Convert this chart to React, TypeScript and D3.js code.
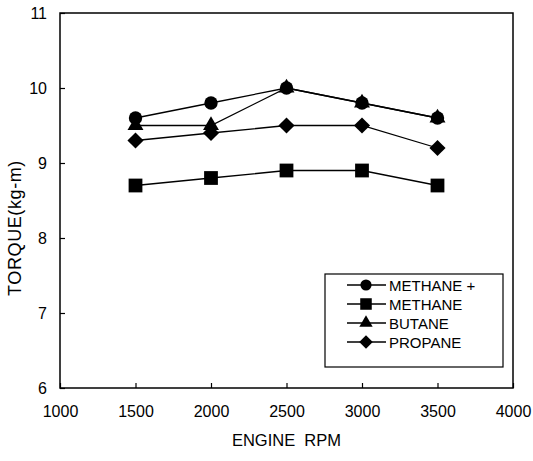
import React, { useRef, useEffect } from "react";
import * as d3 from "d3";

const rpm = [1500, 2000, 2500, 3000, 3500];
const methanePlus = [9.6, 9.8, 10.0, 9.8, 9.6];
const methane = [8.7, 8.8, 8.9, 8.9, 8.7];
const butane = [9.5, 9.5, 10.0, 9.8, 9.6];
const propane = [9.3, 9.4, 9.5, 9.5, 9.2];
const xTicks = [1000, 1500, 2000, 2500, 3000, 3500, 4000];
const yTicks = [6, 7, 8, 9, 10, 11];

// square diamond (equal width and height)
const squareDiamond = {
  draw(context: any, size: number) {
    const r = Math.sqrt(size / 2);
    context.moveTo(0, -r);
    context.lineTo(r, 0);
    context.lineTo(0, r);
    context.lineTo(-r, 0);
    context.closePath();
  },
};

const series = [
  { name: "METHANE +", values: methanePlus, shape: d3.symbolCircle, size: 140 },
  { name: "METHANE", values: methane, shape: d3.symbolSquare, size: 190 },
  { name: "BUTANE", values: butane, shape: d3.symbolTriangle, size: 110 },
  { name: "PROPANE", values: propane, shape: squareDiamond, size: 130 },
];

const App = () => {
  const svgRef = useRef<SVGSVGElement>(null);

  useEffect(() => {
    const width = 533, height = 461;
    const margin = { top: 13, right: 20, bottom: 73, left: 60 };
    const font = "Arial, 'Liberation Sans', sans-serif";

    const svg = d3.select(svgRef.current)
      .attr("width", width)
      .attr("height", height)
      .style("background", "#fff");
    svg.selectAll("*").remove();

    const x = d3.scaleLinear()
      .domain([1000, 4000])
      .range([margin.left, width - margin.right]);
    const y = d3.scaleLinear()
      .domain([6, 11])
      .range([height - margin.bottom, margin.top]);

    // Frame
    svg.append("rect")
      .attr("x", x(1000))
      .attr("y", y(11))
      .attr("width", x(4000) - x(1000))
      .attr("height", y(6) - y(11))
      .attr("fill", "none")
      .attr("stroke", "#000")
      .attr("stroke-width", 1.5);

    // X-axis (inward ticks)
    const xAxis = svg.append("g")
      .attr("transform", `translate(0,${y(6)})`)
      .call(d3.axisBottom(x).tickValues(xTicks).tickSizeInner(-5).tickSizeOuter(0).tickPadding(18).tickFormat(d3.format("d")));
    xAxis.select(".domain").remove();
    xAxis.selectAll("line").attr("stroke-width", 1.2);
    xAxis.selectAll("text")
      .style("font-family", font)
      .style("font-size", "16px")
      .attr("fill", "#000");

    // Y-axis (inward ticks)
    const yAxis = svg.append("g")
      .attr("transform", `translate(${x(1000)},0)`)
      .call(d3.axisLeft(y).tickValues(yTicks).tickSizeInner(-5).tickSizeOuter(0).tickPadding(13).tickFormat(d3.format("d")));
    yAxis.select(".domain").remove();
    yAxis.selectAll("line").attr("stroke-width", 1.2);
    yAxis.selectAll("text")
      .style("font-family", font)
      .style("font-size", "16px")
      .attr("fill", "#000");

    // Lines and markers
    const line = d3.line<number>()
      .x((_, i) => x(rpm[i]))
      .y(d => y(d));

    series.forEach(s => {
      svg.append("path")
        .datum(s.values)
        .attr("fill", "none")
        .attr("stroke", "#000")
        .attr("stroke-width", 1.3)
        .attr("d", line);
    });
    series.forEach(s => {
      svg.selectAll(null)
        .data(s.values)
        .enter().append("path")
        .attr("transform", (d, i) => `translate(${x(rpm[i])},${y(d)})`)
        .attr("d", d3.symbol().type(s.shape as any).size(s.size)())
        .attr("fill", "#000");
    });

    // Legend
    const lg = svg.append("g");
    lg.append("rect")
      .attr("x", 325)
      .attr("y", 274)
      .attr("width", 178)
      .attr("height", 93)
      .attr("fill", "#fff")
      .attr("stroke", "#000")
      .attr("stroke-width", 1.2);
    series.forEach((s, i) => {
      const ly = 285 + i * 19;
      lg.append("line")
        .attr("x1", 347).attr("x2", 386)
        .attr("y1", ly).attr("y2", ly)
        .attr("stroke", "#000")
        .attr("stroke-width", 1.3);
      lg.append("path")
        .attr("transform", `translate(366,${ly})`)
        .attr("d", d3.symbol().type(s.shape as any).size(s.size * 0.7)())
        .attr("fill", "#000");
      lg.append("text")
        .attr("x", 389)
        .attr("y", ly + 5.5)
        .style("font-family", font)
        .style("font-size", "15px")
        .text(s.name);
    });

    // X-axis label
    svg.append("text")
      .attr("x", (x(1000) + x(4000)) / 2)
      .attr("y", 446)
      .style("text-anchor", "middle")
      .style("font-family", font)
      .style("font-size", "16.5px")
      .style("white-space", "pre")
      .text("ENGINE  RPM");

    // Y-axis label
    svg.append("text")
      .attr("transform", "rotate(-90)")
      .attr("x", -228)
      .attr("y", 21)
      .style("text-anchor", "middle")
      .style("font-family", font)
      .style("font-size", "18px")
      .style("letter-spacing", "0.6px")
      .text("TORQUE(kg-m)");
  }, []);

  return (
    <div style={{ position: "absolute", left: 0, top: 0 }}>
      <svg ref={svgRef}></svg>
    </div>
  );
};

export default App;
